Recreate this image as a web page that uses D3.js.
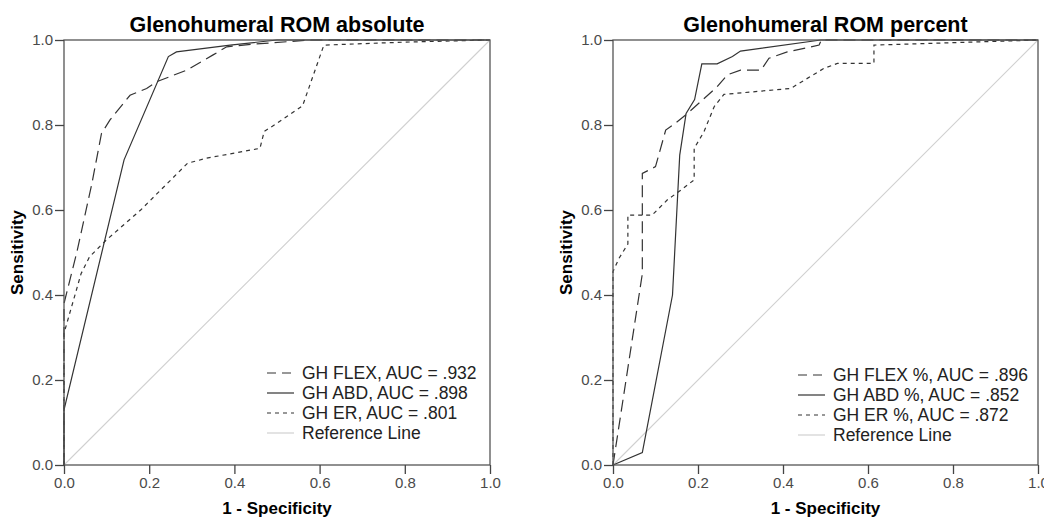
<!DOCTYPE html>
<html>
<head>
<meta charset="utf-8">
<script src="https://cdn.jsdelivr.net/npm/d3@7"></script>
<style>
  body { margin: 0; background: #fff; }
  svg { display: block; font-family: "Liberation Sans", Arial, sans-serif; }
</style>
</head>
<body>
<div class="chart_container"></div>
<script>
// chart data
const panelTitles = ["Glenohumeral ROM absolute", "Glenohumeral ROM percent"];
const xLabel = "1 - Specificity";
const yLabel = "Sensitivity";
const tickValues = [0, 0.2, 0.4, 0.6, 0.8, 1.0];

const absLabels = ["GH FLEX, AUC = .932", "GH ABD, AUC = .898", "GH ER, AUC = .801", "Reference Line"];
const pctLabels = ["GH FLEX %, AUC = .896", "GH ABD %, AUC = .852", "GH ER %, AUC = .872", "Reference Line"];

// [1 - specificity, sensitivity]
const flexAbs = [[0, 0], [0, 0.38], [0.03, 0.5], [0.065, 0.66], [0.088, 0.78], [0.108, 0.812], [0.155, 0.87],
  [0.194, 0.886], [0.218, 0.902], [0.288, 0.929], [0.35, 0.965], [0.382, 0.984], [0.44, 0.99], [0.58, 1], [1, 1]];
const abdAbs = [[0, 0], [0, 0.13], [0.141, 0.718], [0.245, 0.961], [0.264, 0.972], [0.39, 0.988], [0.5, 1], [1, 1]];
const erAbs = [[0, 0], [0, 0.31], [0.04, 0.45], [0.06, 0.49], [0.1, 0.53], [0.18, 0.6], [0.29, 0.71], [0.335, 0.722],
  [0.46, 0.745], [0.47, 0.785], [0.5, 0.804], [0.56, 0.845], [0.61, 0.988], [0.8, 0.995], [1, 1]];

const flexPct = [[0, 0], [0.069, 0.45], [0.069, 0.686], [0.1, 0.702], [0.124, 0.788], [0.144, 0.802], [0.175, 0.827],
  [0.245, 0.89], [0.269, 0.918], [0.3, 0.929], [0.348, 0.929], [0.367, 0.957], [0.41, 0.972], [0.485, 0.988],
  [0.49, 1], [1, 1]];
const abdPct = [[0, 0], [0.069, 0.029], [0.14, 0.4], [0.157, 0.729], [0.172, 0.827], [0.192, 0.86], [0.209, 0.944],
  [0.245, 0.944], [0.281, 0.961], [0.3, 0.974], [0.489, 1], [1, 1]];
const erPct = [[0, 0], [0, 0.455], [0.014, 0.486], [0.035, 0.52], [0.035, 0.588], [0.092, 0.588], [0.128, 0.624],
  [0.16, 0.647], [0.191, 0.671], [0.191, 0.745], [0.214, 0.784], [0.238, 0.843], [0.261, 0.872], [0.418, 0.886],
  [0.496, 0.933], [0.528, 0.945], [0.614, 0.945], [0.614, 0.988], [1, 1]];
const refLine = [[0, 0], [1, 1]];

// layout
const width = 1044, height = 518;
const plotTop = 40, plotBottom = 465;
const panels = [
  { left: 64, right: 490, labels: absLabels, curves: [flexAbs, abdAbs, erAbs], legendX: 203 },
  { left: 613, right: 1038, labels: pctLabels, curves: [flexPct, abdPct, erPct], legendX: 185 },
];
const curveDash = ["12,6", null, "4,4"];
const legendDash = ["9,6", null, "4,4"];
const curveColor = "#333";
const refColor = "#d0d0d0";

const svg = d3.select(".chart_container").append("svg")
  .attr("width", width)
  .attr("height", height);

svg.append("rect").attr("width", width).attr("height", height).attr("fill", "#fff");

panels.forEach((p, pi) => {
  const x = d3.scaleLinear().domain([0, 1]).range([p.left, p.right]);
  const y = d3.scaleLinear().domain([0, 1]).range([plotBottom, plotTop]);
  const g = svg.append("g");

  // reference diagonal
  const line = d3.line().x(d => x(d[0])).y(d => y(d[1]));
  g.append("path").datum(refLine)
    .attr("d", line)
    .attr("fill", "none")
    .attr("stroke", refColor)
    .attr("stroke-width", 1.1);

  // ROC curves
  g.selectAll("path.curve")
    .data(p.curves).enter().append("path")
    .attr("class", "curve")
    .attr("d", line)
    .attr("fill", "none")
    .attr("stroke", curveColor)
    .attr("stroke-width", 1.2)
    .attr("stroke-dasharray", (d, i) => curveDash[i]);

  // frame
  g.append("rect")
    .attr("x", p.left).attr("y", plotTop)
    .attr("width", p.right - p.left).attr("height", plotBottom - plotTop)
    .attr("fill", "none")
    .attr("stroke", "#555")
    .attr("stroke-width", 1.3);

  // axes
  const yAxis = g.append("g")
    .attr("transform", `translate(${p.left},0)`)
    .call(d3.axisLeft(y).tickValues(tickValues).tickFormat(d3.format(".1f")).tickSize(9).tickPadding(2));
  const xAxis = g.append("g")
    .attr("transform", `translate(0,${plotBottom})`)
    .call(d3.axisBottom(x).tickValues(tickValues).tickFormat(d3.format(".1f")).tickSize(9).tickPadding(3));
  [xAxis, yAxis].forEach(a => {
    a.select(".domain").remove();
    a.selectAll(".tick line").attr("stroke", "#444").attr("stroke-width", 1.3);
    a.selectAll(".tick text")
      .attr("fill", "#4a4a4a")
      .style("font-size", "15px")
      .style("font-family", "'Liberation Sans', Arial, sans-serif");
  });

  // titles
  const cx = (p.left + p.right) / 2;
  g.append("text")
    .attr("x", cx).attr("y", 32)
    .attr("text-anchor", "middle")
    .style("font-size", "21.5px").style("font-weight", "bold")
    .text(panelTitles[pi]);
  g.append("text")
    .attr("x", cx).attr("y", 514)
    .attr("text-anchor", "middle")
    .style("font-size", "17px").style("font-weight", "bold")
    .text(xLabel);
  g.append("text")
    .attr("transform", `translate(${p.left - 41},${(plotTop + plotBottom) / 2}) rotate(-90)`)
    .attr("text-anchor", "middle")
    .style("font-size", "17px").style("font-weight", "bold")
    .text(yLabel);

  // legend
  const legend = g.append("g")
    .attr("transform", `translate(${p.left + p.legendX},${373 + pi * 2})`);
  const rows = legend.selectAll("g")
    .data(p.labels).enter().append("g")
    .attr("transform", (d, i) => `translate(0,${i * 20})`);
  rows.append("line")
    .attr("x1", 0).attr("x2", 27)
    .attr("stroke", (d, i) => i === 3 ? refColor : curveColor)
    .attr("stroke-width", 1.2)
    .attr("stroke-dasharray", (d, i) => legendDash[i]);
  rows.append("text")
    .attr("x", 35).attr("y", 6)
    .attr("fill", "#222")
    .style("font-size", "17.5px")
    .text(d => d);
});
</script>
</body>
</html>
